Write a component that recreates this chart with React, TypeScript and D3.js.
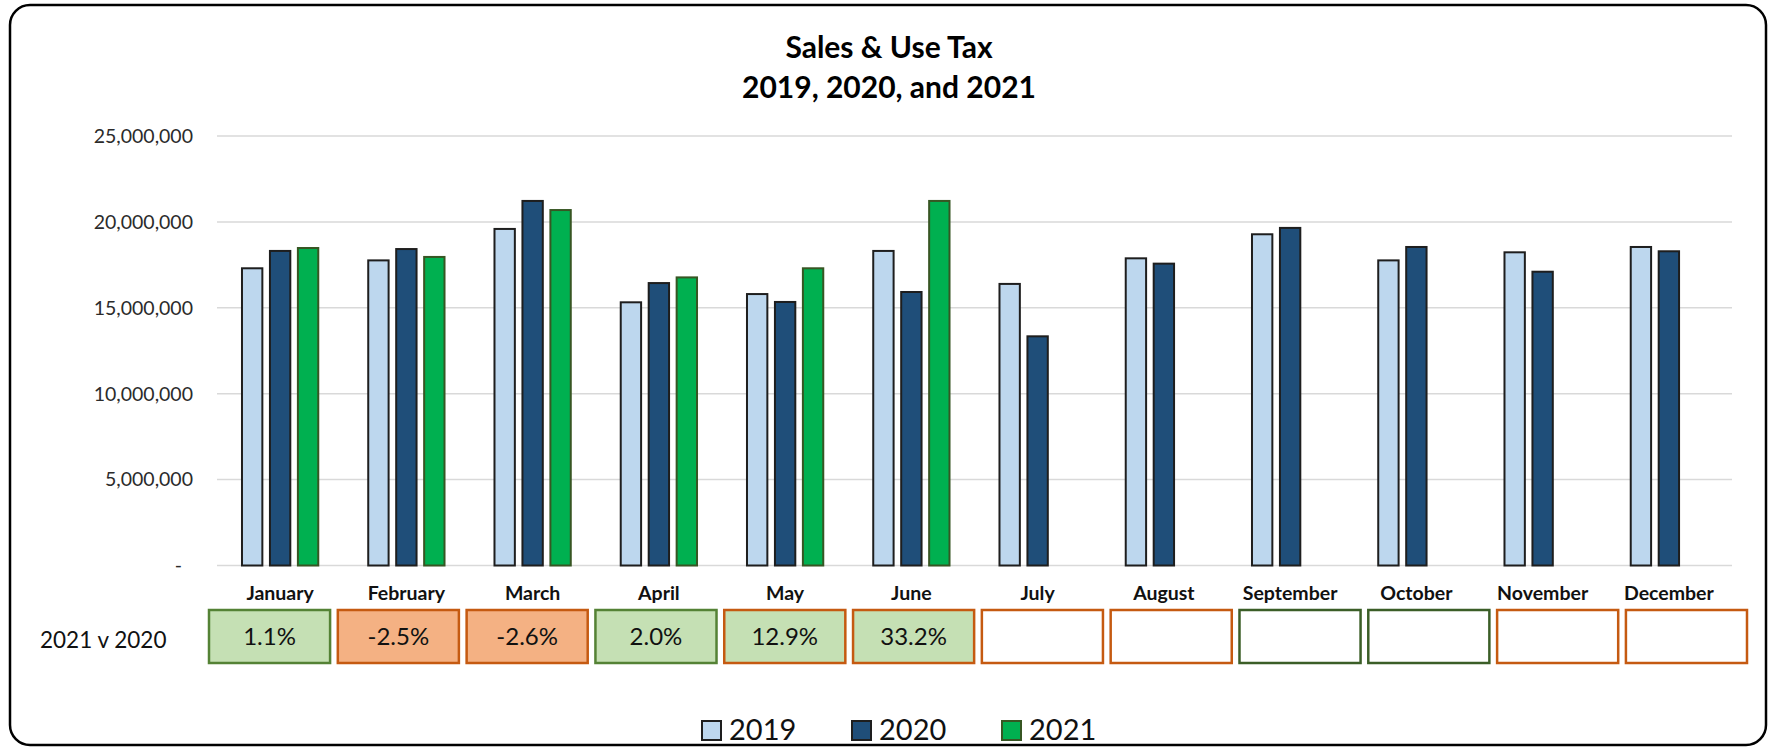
import React from "react";
import * as d3 from "d3";

const months = ["January","February","March","April","May","June","July","August","September","October","November","December"];
const series = ["2019","2020","2021"];
const sales2019 = [17300000,17760000,19590000,15320000,15800000,18310000,16390000,17880000,19280000,17760000,18230000,18540000];
const sales2020 = [18310000,18420000,21220000,16440000,15340000,15920000,13340000,17570000,19650000,18540000,17100000,18290000];
const sales2021 = [18480000,17960000,20690000,16770000,17300000,21220000,null,null,null,null,null,null];
const yTicks = [0,5000000,10000000,15000000,20000000,25000000];
const pctLabels = ["1.1%","-2.5%","-2.6%","2.0%","12.9%","33.2%","","","","","",""];
const boxBorders = ["green","orange","orange","green","orange","orange","orange","orange","darkgreen","darkgreen","orange","orange"];
const rowLabel = "2021 v 2020";
const titleLines = ["Sales & Use Tax","2019, 2020, and 2021"];

const W = 1769, H = 749;
const fills: Record<string,string> = { "2019": "#BDD7EE", "2020": "#1F4E79", "2021": "#00B050" };
const strokes: Record<string,string> = { "2019": "#1e1e1e", "2020": "#1e1e1e", "2021": "#375623" };
const borderColors: Record<string,string> = { green: "#548235", darkgreen: "#3B5E27", orange: "#C55A11" };
const FONT = "Lato, 'Open Sans', sans-serif";

export default function App() {
  const values: Record<string,(number|null)[]> = { "2019": sales2019, "2020": sales2020, "2021": sales2021 };
  const x0 = d3.scaleBand<string>().domain(months).range([217,1732]).paddingInner(0.38).paddingOuter(0.19);
  const x1 = d3.scaleBand<string>().domain(series).range([0, x0.bandwidth()]).paddingInner(0.2);
  const y = d3.scaleLinear().domain([0,25000000]).range([565.5,136]);
  const fmt = d3.format(",");
  const xBox = d3.scaleBand<string>().domain(months).range([209,1747]).paddingInner(0.06);
  const boxTop = 610, boxH = 53;

  return (
    <svg width={W} height={H} style={{position:"absolute",left:0,top:0,background:"#fff"}} fontFamily={FONT}>
      <rect x={10} y={5} width={1756} height={740} rx={20} ry={20} fill="#fff" stroke="#000" strokeWidth={2.5}/>
      {titleLines.map((t,i)=>(
        <text key={t} x={889} y={58 + i*40} textAnchor="middle" fontWeight={700} fontSize={30} fill="#000">{t}</text>
      ))}
      {yTicks.map(t=>(
        <g key={t}>
          <line x1={217} x2={1732} y1={y(t)} y2={y(t)} stroke="#D9D9D9" strokeWidth={1.5}/>
          <text x={t===0?182:193} y={y(t)} dy="0.35em" textAnchor="end" fontSize={19.5} fill="#2b2b2b">{t===0?"-":fmt(t)}</text>
        </g>
      ))}
      {months.map((m,i)=>(
        <g key={m} transform={`translate(${x0(m)},0)`}>
          {series.map(s=>{
            const v = values[s][i];
            if (v==null) return null;
            return <rect key={s} x={x1(s)!+1} y={y(v)} width={x1.bandwidth()-2} height={y(0)-y(v)} fill={fills[s]} stroke={strokes[s]} strokeWidth={2}/>;
          })}
        </g>
      ))}
      {months.map(m=>(
        <text key={m} x={x0(m)!+x0.bandwidth()/2} y={600} textAnchor="middle" fontWeight={700} fontSize={19.5} fill="#111">{m}</text>
      ))}
      <text x={40} y={640.5} dy="0.35em" fontSize={22.5} fill="#111">{rowLabel}</text>
      {months.map((m,i)=>{
        const lbl = pctLabels[i];
        const fill = lbl==="" ? "#FFFFFF" : (parseFloat(lbl) < 0 ? "#F4B183" : "#C5E0B4");
        return (
          <g key={m}>
            <rect x={xBox(m)} y={boxTop} width={xBox.bandwidth()} height={boxH} fill={fill} stroke={borderColors[boxBorders[i]]} strokeWidth={2.5}/>
            {lbl && <text x={xBox(m)!+xBox.bandwidth()/2} y={boxTop+boxH/2} dy="0.35em" textAnchor="middle" fontSize={24} fill="#111">{lbl}</text>}
          </g>
        );
      })}
      {series.map((s,i)=>(
        <g key={s} transform={`translate(${701 + i*150},720)`}>
          <rect x={1} y={1} width={19} height={19} fill={fills[s]} stroke={strokes[s]} strokeWidth={2}/>
          <text x={28} y={20} fontSize={29} fill="#111">{s}</text>
        </g>
      ))}
    </svg>
  );
}
